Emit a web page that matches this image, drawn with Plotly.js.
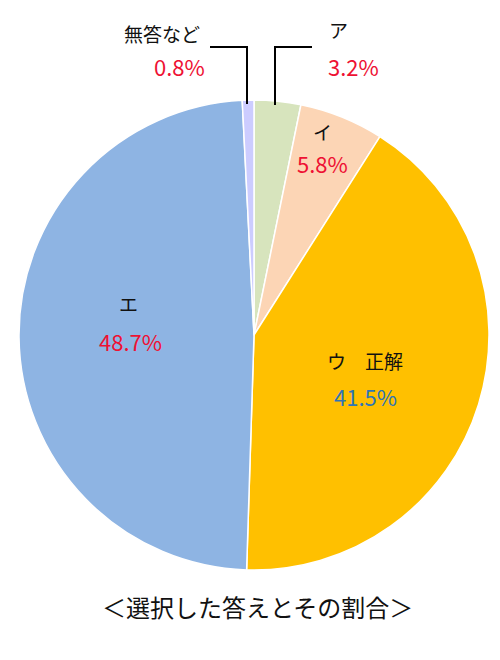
<!DOCTYPE html>
<html><head><meta charset="utf-8">
<script src="https://cdn.plot.ly/plotly-3.0.1.min.js"></script>
<style>body{margin:0;background:#fff}#c{width:500px;height:660px}</style>
</head><body><div id="c"></div>
<script>
const labels = ["ア", "イ", "ウ　正解", "エ", "無答など"];
const values = [3.2, 5.8, 41.5, 48.7, 0.8];
const colors = ["#d7e4bd", "#fcd5b5", "#ffc000", "#8eb4e3", "#ccccff"];
const pctText = ["3.2%", "5.8%", "41.5%", "48.7%", "0.8%"];
const pctColors = ["#ee1133", "#ee1133", "#2e75b6", "#ee1133", "#ee1133"];
const chartTitle = "＜選択した答えとその割合＞";

const W = 500, H = 660;
const px = x => x / W, py = y => 1 - y / H;
const font = "'Noto Sans CJK JP', 'Noto Sans', sans-serif";

// label positions (pixels) for each slice: [labelX, labelY, pctX, pctY]
const pos = [
  [338, 30, 353, 66],
  [322, 131, 322, 163],
  [365, 360, 365, 396],
  [128, 303, 130, 341],
  [162, 33, 179, 66]
];
const annotations = [];
labels.forEach((l, i) => {
  annotations.push({x: px(pos[i][0]), y: py(pos[i][1]), xref: 'paper', yref: 'paper', text: l, showarrow: false,
    font: {family: font, size: 19, color: '#111'}, xanchor: 'center', yanchor: 'middle'});
  annotations.push({x: px(pos[i][2]), y: py(pos[i][3]), xref: 'paper', yref: 'paper', text: pctText[i], showarrow: false,
    font: {family: font, size: 22, color: pctColors[i]}, xanchor: 'center', yanchor: 'middle'});
});
annotations.push({x: px(257), y: py(606), xref: 'paper', yref: 'paper', text: chartTitle, showarrow: false,
  font: {family: font, size: 24, color: '#111'}, xanchor: 'center', yanchor: 'middle'});

const lineStyle = {color: '#000', width: 2};
const shapes = [
  {type: 'path', xref: 'paper', yref: 'paper', path: `M ${px(210)} ${py(47)} L ${px(247)} ${py(47)} L ${px(247)} ${py(104)}`, line: lineStyle},
  {type: 'path', xref: 'paper', yref: 'paper', path: `M ${px(312)} ${py(47)} L ${px(275)} ${py(47)} L ${px(275)} ${py(105)}`, line: lineStyle}
];

const cx = 254, cy = 335, r = 235;
const data = [{
  type: 'pie', labels: labels, values: values, sort: false, direction: 'clockwise', rotation: 0,
  marker: {colors: colors, line: {color: '#fff', width: 1.5}},
  textinfo: 'none', hoverinfo: 'label+percent', showlegend: false,
  domain: {x: [px(cx - r), px(cx + r)], y: [py(cy + r), py(cy - r)]}
}];
const layout = {
  width: W, height: H, margin: {l: 0, r: 0, t: 0, b: 0},
  paper_bgcolor: '#fff', showlegend: false,
  annotations: annotations, shapes: shapes
};
Plotly.newPlot('c', data, layout, {displayModeBar: false, staticPlot: true});
</script></body></html>
